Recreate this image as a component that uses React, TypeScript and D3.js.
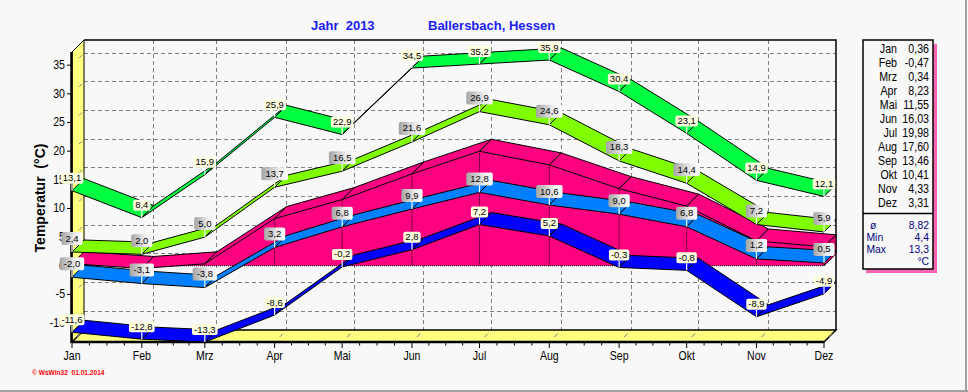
import React, { useEffect, useRef } from 'react'
import * as d3 from 'd3'

// Monatsdaten 2013
const months = ['Jan', 'Feb', 'Mrz', 'Apr', 'Mai', 'Jun', 'Jul', 'Aug', 'Sep', 'Okt', 'Nov', 'Dez']
const absMax = [13.1, 8.4, 15.9, 25.9, 22.9, 34.5, 35.2, 35.9, 30.4, 23.1, 14.9, 12.1]
const meanMax = [2.4, 2.0, 5.0, 13.7, 16.5, 21.6, 26.9, 24.6, 18.3, 14.4, 7.2, 5.9]
const meanTemp = [0.36, -0.47, 0.34, 8.23, 11.55, 16.03, 19.98, 17.6, 13.46, 10.41, 4.33, 3.31]
const meanMin = [-2.0, -3.1, -3.8, 3.2, 6.8, 9.9, 12.8, 10.6, 9.0, 6.8, 1.2, 0.5]
const absMin = [-11.6, -12.8, -13.3, -8.6, -0.2, 2.8, 7.2, 5.2, -0.3, -0.8, -8.9, -4.9]
const yTicks = [-10, -5, 0, 5, 10, 15, 20, 25, 30, 35]
const yearStats = [
  { label: 'ø', value: '8,82' },
  { label: 'Min', value: '4,4' },
  { label: 'Max', value: '13,3' },
]

const W = 968
const H = 392
const D = 12 // 3D-Tiefe
const FONT = 'Liberation Sans, Arial, sans-serif'
const BG = '#f8f8f8'

const dates = months.map((_, i) => new Date(2013, i, 1))
const fmt = (v: number) => v.toFixed(1).replace('.', ',')

type Sel = d3.Selection<any, unknown, null, undefined>

// schmale Schrift wie im Original (Bitmap-Font nachgeahmt)
function narrow(parent: Sel, x: number, y: number, str: string, size: number,
  anchor = 'start', fill = '#000', sx = 0.85) {
  return parent.append('text')
    .attr('transform', `translate(${x},${y}) scale(${sx},1)`)
    .attr('text-anchor', anchor)
    .attr('font-family', FONT)
    .attr('font-size', size)
    .attr('fill', fill)
    .text(str)
}

const App: React.FC = () => {
  const svgRef = useRef<SVGSVGElement>(null)

  useEffect(() => {
    const svg = d3.select(svgRef.current) as Sel
    svg.selectAll('*').remove()

    const x = d3.scaleTime().domain([dates[0], dates[11]]).range([72, 824])
    const y = d3.scaleLinear().domain([-13.3, 37.3]).range([342, 52])

    const x0 = x(dates[0]), x1 = x(dates[11])
    const yb = y(-13.3), yt = y(37.3)
    const y0 = y(0)

    const defs = svg.append('defs')
    const grad = defs.append('linearGradient').attr('id', 'grayLab').attr('x1', 0).attr('x2', 1).attr('y1', 0).attr('y2', 0)
    grad.append('stop').attr('offset', '0%').attr('stop-color', '#a4a4a4')
    grad.append('stop').attr('offset', '65%').attr('stop-color', '#ececec')
    grad.append('stop').attr('offset', '100%').attr('stop-color', '#ffffff')

    // Hintergrund + Rahmen
    svg.append('rect').attr('width', W).attr('height', H).attr('fill', BG)
    svg.append('line').attr('x1', W - 2).attr('x2', W - 2).attr('y1', 0).attr('y2', H).attr('stroke', '#a0a0a0').attr('stroke-width', 2)
    svg.append('line').attr('x1', 0).attr('x2', W).attr('y1', H - 1).attr('y2', H - 1).attr('stroke', '#a0a0a0').attr('stroke-width', 2)

    // Titel
    svg.append('text').attr('x', 311).attr('y', 30).attr('font-family', FONT).attr('font-size', 13)
      .attr('font-weight', 'bold').attr('fill', '#1c1cf0').style('white-space', 'pre').text('Jahr  2013')
    svg.append('text').attr('x', 428).attr('y', 30).attr('font-family', FONT).attr('font-size', 13)
      .attr('font-weight', 'bold').attr('fill', '#1c1cf0').text('Ballersbach, Hessen')

    const g = svg.append('g')

    // Rückwand-Gitter
    yTicks.forEach(t => {
      g.append('line').attr('x1', x0 + D).attr('x2', x1 + D).attr('y1', y(t) - D).attr('y2', y(t) - D)
        .attr('stroke', '#808080').attr('stroke-dasharray', '4,3').attr('shape-rendering', 'crispEdges')
    })
    dates.slice(1, 11).forEach(d => {
      g.append('line').attr('x1', x(d) + D).attr('x2', x(d) + D).attr('y1', yt - D).attr('y2', yb - D)
        .attr('stroke', '#808080').attr('stroke-dasharray', '4,3').attr('shape-rendering', 'crispEdges')
    })
    g.append('polyline')
      .attr('points', [[x0 + D, yt - D], [x1 + D, yt - D], [x1 + D, yb - D]].join(' '))
      .attr('fill', 'none').attr('stroke', '#000').attr('stroke-width', 1.5)

    // linke Wand und Boden
    g.append('polygon')
      .attr('points', [[x0, yt], [x0 + D, yt - D], [x0 + D, yb - D], [x0, yb]].join(' '))
      .attr('fill', '#ffff80').attr('stroke', '#000').attr('stroke-width', 1)
    g.append('polygon')
      .attr('points', [[x0, yb], [x0 + D, yb - D], [x1 + D, yb - D], [x1, yb]].join(' '))
      .attr('fill', '#ffff80').attr('stroke', '#000').attr('stroke-width', 1.5)

    yTicks.forEach(t => {
      g.append('line').attr('x1', x0 + 7).attr('x2', x0 + 10).attr('y1', y(t) - 7).attr('y2', y(t) - 10)
        .attr('stroke', '#808080')
    })
    dates.forEach(d => {
      g.append('line').attr('x1', x(d) + 5).attr('x2', x(d) + 8.5).attr('y1', yb - 5).attr('y2', yb - 8.5)
        .attr('stroke', '#808080')
    })

    // vordere Achsen
    g.append('line').attr('x1', x0 - 0.5).attr('x2', x0 - 0.5).attr('y1', yt).attr('y2', yb + 1)
      .attr('stroke', '#000').attr('stroke-width', 2.5)
    g.append('line').attr('x1', x0).attr('x2', x1).attr('y1', yb).attr('y2', yb)
      .attr('stroke', '#000').attr('stroke-width', 2.5)

    yTicks.forEach(t => {
      g.append('line').attr('x1', x0 - 5).attr('x2', x0).attr('y1', y(t)).attr('y2', y(t)).attr('stroke', '#000')
      narrow(g, x0 - 7, y(t) + 4, String(t), 12, 'end', '#000', 0.88)
    })
    dates.forEach((d, i) => {
      const xi = x(d)
      g.append('line').attr('x1', xi).attr('x2', xi).attr('y1', yb).attr('y2', yb + 6).attr('stroke', '#000')
      narrow(g, xi, yb + 18, months[i], 12, 'middle', '#000', 0.88)
      if (i < 11) {
        const xn = x(dates[i + 1])
        for (let k = 1; k < 4; k++) {
          const xm = xi + (xn - xi) * k / 4
          g.append('line').attr('x1', xm).attr('x2', xm).attr('y1', yb).attr('y2', yb + 3.5).attr('stroke', '#000')
        }
      }
    })

    const pts = (vals: number[]) => vals.map((v, i) => [x(dates[i]), y(v)] as [number, number])

    const ribbon = (vals: number[], fill: string) => {
      const p = pts(vals)
      for (let i = 0; i < p.length - 1; i++) {
        const a = p[i], b = p[i + 1]
        g.append('polygon')
          .attr('points', [[a[0], a[1]], [b[0], b[1]], [b[0] + D, b[1] - D], [a[0] + D, a[1] - D]].join(' '))
          .attr('fill', fill).attr('stroke', '#000').attr('stroke-width', 1).attr('stroke-linejoin', 'round')
      }
    }

    // Mitteltemperatur als 3D-Fläche
    const pm = pts(meanTemp)
    const pink = '#ff0080'
    g.append('polygon')
      .attr('points', [...pm, [x1, y0], [x0, y0]].join(' '))
      .attr('fill', pink)
    g.append('line').attr('x1', x0).attr('x2', x1).attr('y1', y0).attr('y2', y0)
      .attr('stroke', '#000').attr('stroke-dasharray', '1,1')
    pm.slice(1, 11).forEach(p => {
      g.append('line').attr('x1', p[0]).attr('x2', p[0]).attr('y1', p[1]).attr('y2', y0)
        .attr('stroke', '#000').attr('stroke-dasharray', '1,1')
    })
    ribbon(meanTemp, pink)
    const last = pm[11]
    g.append('polygon')
      .attr('points', [[last[0], last[1]], [last[0] + D, last[1] - D], [last[0] + D, y0 - D], [last[0], y0]].join(' '))
      .attr('fill', '#e00070').attr('stroke', '#000').attr('stroke-width', 1)

    ribbon(meanMin, '#0080ff')
    ribbon(absMin, '#0000ff')
    ribbon(meanMax, '#80ff00')
    ribbon(absMax, '#00ff40')

    // Wertebeschriftungen
    const labels = (vals: number[], gray: boolean) => {
      pts(vals).forEach((p, i) => {
        const lg = g.append('g')
        const h = gray ? 13 : 11
        const bottom = p[1] - 7
        const txt = lg.append('text').attr('x', p[0]).attr('y', bottom - (gray ? 3.5 : 2.5))
          .attr('text-anchor', 'middle').attr('font-family', FONT).attr('font-size', 9.5)
          .attr('fill', '#000').text(fmt(vals[i]))
        const tw = (txt.node() as SVGTextElement).getComputedTextLength()
        const bw = tw + (gray ? 8 : 4)
        lg.insert('rect', 'text').attr('x', p[0] - bw / 2).attr('y', bottom - h).attr('width', bw).attr('height', h)
          .attr('rx', 2).attr('fill', gray ? 'url(#grayLab)' : '#ffffe0')
        lg.append('line').attr('x1', p[0]).attr('x2', p[0]).attr('y1', bottom).attr('y2', p[1])
          .attr('stroke', '#fff').attr('stroke-width', 1.2)
      })
    }
    labels(absMax, false)
    labels(meanMax, true)
    labels(meanMin, true)
    labels(absMin, false)

    // Achsentitel
    svg.append('text').attr('transform', 'translate(45,198) rotate(-90)').attr('text-anchor', 'middle')
      .attr('font-family', FONT).attr('font-size', 14).attr('font-weight', 'bold').attr('fill', '#000')
      .style('white-space', 'pre').text('Temperatur  (°C)')

    // Legende
    const lx = 863, ly = 40, lw = 70, lh = 229
    svg.append('rect').attr('x', lx + 3).attr('y', ly + 4).attr('width', lw + 1).attr('height', lh)
      .attr('fill', '#ff66b2')
    svg.append('rect').attr('x', lx).attr('y', ly).attr('width', lw).attr('height', lh)
      .attr('fill', BG).attr('stroke', '#000').attr('stroke-width', 1.5)
    months.forEach((m, i) => {
      const by = 52.5 + i * 14
      narrow(svg, 897, by, m, 13, 'end', '#000', 0.82)
      narrow(svg, 929, by, meanTemp[i].toFixed(2).replace('.', ','), 13, 'end', '#000', 0.82)
    })
    svg.append('line').attr('x1', lx).attr('x2', lx + lw).attr('y1', 213.5).attr('y2', 213.5)
      .attr('stroke', '#000').attr('stroke-width', 1.5)
    yearStats.forEach((s, i) => {
      const by = 228.5 + i * 12
      narrow(svg, i === 0 ? 870 : 866.5, by, s.label, 11.5, 'start', '#000080', 0.9)
      narrow(svg, 929, by, s.value, 11.5, 'end', '#000080', 0.9)
    })
    narrow(svg, 929, 264.5, '°C', 11.5, 'end', '#000080', 0.9)

    // Fußzeile
    svg.append('text').attr('transform', 'translate(32,375) scale(0.88,1)').attr('font-family', FONT).attr('font-size', 7.5)
      .attr('font-weight', 'bold').attr('fill', '#ff0000').style('white-space', 'pre')
      .text('© WsWin32  01.01.2014')
  }, [])

  return (
    <svg ref={svgRef} width={W} height={H}
      style={{ position: 'fixed', left: 0, top: 0, display: 'block' }}></svg>
  )
}

export default App
